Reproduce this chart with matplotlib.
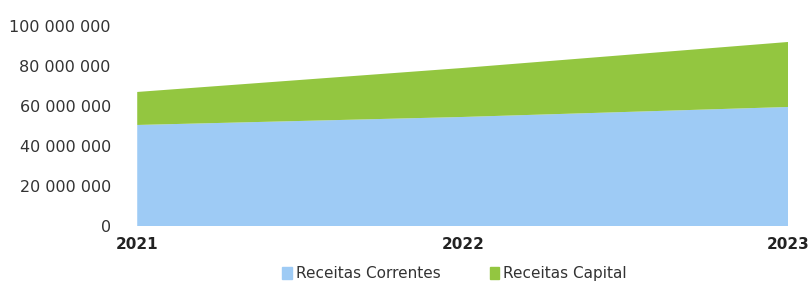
import numpy as np
import matplotlib.pyplot as plt
from matplotlib.ticker import FuncFormatter
from matplotlib.patches import Patch

# data (values in euros)
years = ['2021', '2022', '2023']
receitas_correntes = [50.5e6, 54.5e6, 59.5e6]
receitas_capital = [16.5e6, 24.5e6, 32.5e6]
series_names = ['Receitas Correntes', 'Receitas Capital']
colors = ['#9ecbf5', '#93c640']

fig = plt.figure(figsize=(8.12, 2.85), dpi=100)
ax = fig.add_axes([0.169, 0.207, 0.802, 0.702])

x = np.arange(len(years))
ax.stackplot(x, receitas_correntes, receitas_capital, colors=colors,
             linewidth=0)

ax.set_xlim(x[0], x[-1])
ax.set_ylim(0, 100e6)
ax.set_yticks(np.arange(0, 100e6 + 1, 20e6))
ax.yaxis.set_major_formatter(
    FuncFormatter(lambda v, p: '{:,.0f}'.format(v).replace(',', ' ')))
ax.set_xticks(x)
ax.set_xticklabels(years, fontweight='bold')

for s in ax.spines.values():
    s.set_visible(False)
ax.tick_params(axis='y', length=0, labelsize=11.5, labelcolor='#333333', pad=19)
ax.tick_params(axis='x', length=0, labelsize=11, labelcolor='#222222', pad=8)

handles = [Patch(color=c) for c in colors]
fig.legend(handles, series_names, loc='lower center', ncol=2,
           bbox_to_anchor=(0.56, -0.035), frameon=False, fontsize=11,
           handlelength=0.6, handleheight=0.8, handletextpad=0.3,
           columnspacing=3.2, labelcolor='#333333')

plt.savefig('out.png', dpi=100)
